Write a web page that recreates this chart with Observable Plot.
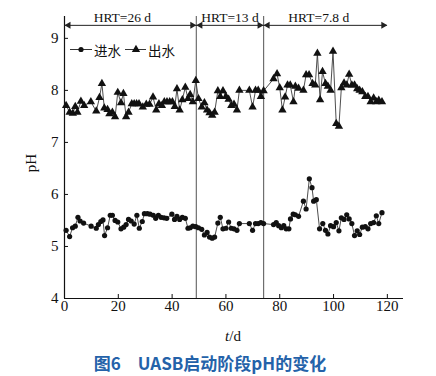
<!DOCTYPE html>
<html>
<head>
<meta charset="utf-8">
<script src="https://cdn.jsdelivr.net/npm/d3@7"></script>
<script src="https://cdn.jsdelivr.net/npm/@observablehq/plot@0.6"></script>
<style>
  html, body { margin: 0; padding: 0; background: #fff; }
  #wrap { position: relative; width: 436px; height: 376px; }
  #caption {
    position: absolute; left: 0; top: 352px; width: 420px; text-align: center;
    font-family: "Noto Sans CJK SC", "Noto Sans", sans-serif; font-weight: bold;
    font-size: 17px; line-height: 22px; color: #2462a9; white-space: pre;
  }
</style>
</head>
<body>
<div id="wrap"><div id="chart"></div><div id="caption"></div></div>
<script>
// ---- data ----
const xTicks = [0, 20, 40, 60, 80, 100, 120];
const yTicks = [4, 5, 6, 7, 8, 9];
const seriesNames = ["进水", "出水"];
const hrtBounds = [49, 74];
const hrtStart = [0, 49, 74];
const hrtEnd = [49, 74, 120];
const hrtLabels = ["HRT=26 d", "HRT=13 d", "HRT=7.8 d"];
const hrtLabelX = [21.5, 61.5, 94.5];
const hrtLevel = 9.25;

const inDays = [0.6, 1.9, 3.0, 4.0, 5.0, 5.8, 7.1, 9.9, 11.8, 12.6, 13.5, 14.3, 14.9, 16.0, 17.0, 17.8, 18.8, 19.8,
  21.0, 22.0, 22.9, 23.8, 24.8, 25.9, 26.9, 27.8, 28.9, 29.7, 30.8, 31.8, 33.0, 33.9, 34.9, 35.9, 37.0, 38.0,
  39.9, 40.9, 41.8, 42.8, 43.8, 44.9, 45.9, 46.7, 47.7, 48.8, 49.8, 51.0, 52.0, 53.0, 53.9, 54.9, 55.8, 57.0,
  57.9, 58.9, 60.0, 61.0, 62.0, 63.0, 64.1, 65.0, 68.7, 69.9, 71.0, 72.0, 73.0, 74.0, 77.7, 78.7, 79.6, 80.6,
  81.5, 82.4, 83.4, 84.0, 85.0, 85.8, 87.0, 88.8, 89.8, 91.0, 92.0, 92.6, 93.6, 94.8, 96.0, 97.0, 97.9, 98.9,
  100.0, 101.0, 102.0, 102.9, 103.9, 104.9, 105.8, 106.8, 107.8, 108.8, 109.7, 110.7, 111.8, 112.8, 113.8,
  114.9, 115.9, 116.8, 118.0];
const inPH = [5.31, 5.19, 5.36, 5.39, 5.56, 5.49, 5.45, 5.39, 5.35, 5.42, 5.48, 5.51, 5.21, 5.36, 5.60, 5.60, 5.50, 5.47,
  5.34, 5.37, 5.42, 5.52, 5.49, 5.43, 5.60, 5.35, 5.48, 5.63, 5.63, 5.62, 5.60, 5.54, 5.60, 5.56, 5.55, 5.54,
  5.62, 5.52, 5.58, 5.52, 5.56, 5.54, 5.35, 5.36, 5.39, 5.38, 5.36, 5.33, 5.22, 5.27, 5.18, 5.16, 5.18, 5.45,
  5.56, 5.34, 5.35, 5.47, 5.35, 5.34, 5.31, 5.44, 5.44, 5.31, 5.44, 5.44, 5.46, 5.44, 5.42, 5.46, 5.40, 5.36,
  5.40, 5.34, 5.34, 5.53, 5.62, 5.61, 5.58, 5.87, 5.72, 6.30, 6.13, 5.87, 5.90, 5.34, 5.44, 5.31, 5.24, 5.40,
  5.38, 5.46, 5.30, 5.55, 5.52, 5.61, 5.53, 5.44, 5.21, 5.30, 5.23, 5.37, 5.38, 5.34, 5.44,
  5.46, 5.59, 5.44, 5.65];

const outDays = [0.6, 1.9, 3.1, 4.0, 4.8, 6.1, 7.3, 9.8, 11.8, 13.0, 13.9, 14.8, 16.0, 16.7, 17.8, 18.8, 19.8, 21.0,
  21.9, 22.9, 23.8, 25.0, 25.9, 26.8, 27.7, 29.1, 30.4, 31.6, 32.9, 34.1, 35.1, 36.2, 37.1, 38.1, 39.1, 40.1,
  41.0, 41.8, 42.8, 43.8, 44.9, 45.9, 46.7, 47.7, 48.8, 49.8, 51.0, 52.0, 53.0, 53.9, 54.9, 55.8, 57.0, 57.9,
  58.9, 60.0, 61.0, 62.0, 63.0, 64.1, 65.0, 68.7, 69.9, 71.0, 72.0, 73.0, 74.0, 77.7, 79.0, 80.0, 81.0, 82.0,
  82.9, 83.9, 85.1, 85.8, 87.0, 88.8, 89.8, 90.9, 92.2, 93.2, 94.0, 95.0, 95.9, 97.0, 97.9, 98.9, 99.8, 101.0,
  102.0, 102.9, 103.9, 104.9, 105.8, 106.8, 107.8, 108.8, 109.7, 110.7, 111.8, 112.8, 113.8, 114.9, 115.9,
  116.8, 118.0];
const outPH = [7.71, 7.58, 7.56, 7.69, 7.58, 7.79, 7.71, 7.78, 7.60, 7.86, 8.13, 7.66, 7.63, 7.55, 7.58, 7.49, 7.96, 7.76,
  7.94, 7.49, 7.58, 7.74, 7.74, 7.74, 7.74, 7.68, 7.73, 7.73, 7.87, 7.62, 7.74, 7.71, 7.78, 7.78, 7.78, 7.78,
  7.69, 8.03, 7.62, 7.82, 8.06, 7.84, 7.92, 7.78, 8.19, 7.84, 7.68, 7.76, 7.62, 7.57, 7.52, 7.58, 7.99, 7.88,
  7.99, 7.88, 7.83, 7.71, 7.73, 7.62, 8.00, 8.00, 7.68, 8.00, 8.00, 7.88, 7.99, 8.22, 8.32, 8.05, 7.62, 7.87,
  8.10, 8.10, 7.78, 8.08, 8.04, 8.00, 8.30, 8.30, 8.13, 8.10, 8.71, 7.82, 8.36, 8.13, 8.08, 8.00, 8.75, 7.36,
  7.31, 8.05, 8.14, 8.10, 8.31, 8.10, 8.10, 8.03, 8.00, 7.97, 7.88, 7.88, 7.78, 7.85, 7.78,
  7.81, 7.78];

const inflow = inDays.map((d, i) => ({t: d, pH: inPH[i]}));
const outflow = outDays.map((d, i) => ({t: d, pH: outPH[i]}));
const segments = hrtStart.map((s, i) => ({s, e: hrtEnd[i], label: hrtLabels[i], lx: hrtLabelX[i]}));

const serif = "'Liberation Serif', 'Times New Roman', serif";
const cjk = "'Noto Sans CJK SC', sans-serif";

const chart = Plot.plot({
  width: 436,
  height: 352,
  marginLeft: 64,
  marginRight: 33,
  marginTop: 16,
  marginBottom: 54,
  x: {domain: [0, 126]},
  y: {domain: [4, 9.42]},
  style: {fontFamily: serif, fontSize: "15px", background: "white", color: "#111", overflow: "visible"},
  marks: [
    Plot.ruleX(hrtBounds, {stroke: "#6e6e6e", strokeWidth: 1.2}),
    Plot.ruleX([0], {stroke: "#111", strokeWidth: 1.2}),
    Plot.ruleY([4], {stroke: "#111", strokeWidth: 1.2}),
    Plot.axisX({ticks: xTicks, tickFormat: d3.format("d"), tickSize: -4, tickPadding: 6, label: null, fontSize: 15, stroke: "#111"}),
    Plot.axisY({ticks: yTicks, tickFormat: d3.format("d"), tickSize: -4, tickPadding: 10, label: null, fontSize: 15, stroke: "#111"}),
    // HRT annotations
    Plot.ruleY(segments, {x1: "s", x2: "e", y: () => hrtLevel, stroke: "#222", strokeWidth: 1}),
    Plot.dot(segments, {x: "s", y: () => hrtLevel, symbol: "triangle", rotate: -90, r: 2.6, fill: "#222", dx: 4}),
    Plot.dot(segments, {x: "e", y: () => hrtLevel, symbol: "triangle", rotate: 90, r: 2.6, fill: "#222", dx: -4}),
    Plot.text(segments, {x: "lx", y: () => hrtLevel, text: "label", dy: -8, fontSize: 13.5, fill: "#111"}),
    // series
    Plot.line(inflow, {x: "t", y: "pH", stroke: "#3a3a3a", strokeWidth: 0.9}),
    Plot.line(outflow, {x: "t", y: "pH", stroke: "#3a3a3a", strokeWidth: 0.9}),
    Plot.dot(inflow, {x: "t", y: "pH", symbol: "circle", r: 2.6, fill: "#111"}),
    Plot.dot(outflow, {x: "t", y: "pH", symbol: "triangle", r: 3.1, fill: "#111"})
  ]
});

document.getElementById("chart").appendChild(chart);
const svg = d3.select(chart);

// axis titles
svg.append("text")
  .attr("transform", "translate(31,163) rotate(-90)")
  .attr("text-anchor", "middle").attr("dominant-baseline", "central")
  .style("font-family", serif).style("font-size", "15px").attr("fill", "#111")
  .text("pH");
const tl = svg.append("text")
  .attr("x", 233).attr("y", 341).attr("text-anchor", "middle")
  .style("font-family", serif).style("font-size", "15px").attr("fill", "#111");
tl.append("tspan").style("font-style", "italic").text("t");
tl.append("tspan").text("/d");

// legend
const lg = svg.append("g").attr("fill", "#111").attr("stroke", "#333");
lg.append("line").attr("x1", 70).attr("x2", 92).attr("y1", 49.5).attr("y2", 49.5).attr("stroke-width", 1);
lg.append("circle").attr("cx", 81).attr("cy", 49.5).attr("r", 2.6).attr("stroke", "none");
lg.append("text").attr("x", 94).attr("y", 50).attr("text-anchor", "start").attr("dominant-baseline", "central").attr("stroke", "none")
  .style("font-family", cjk).style("font-size", "13.5px").text(seriesNames[0]);
lg.append("line").attr("x1", 125).attr("x2", 146).attr("y1", 49.5).attr("y2", 49.5).attr("stroke-width", 1);
lg.append("path").attr("d", d3.symbol(d3.symbolTriangle, 30)()).attr("transform", "translate(136,49.5)").attr("stroke", "none");
lg.append("text").attr("x", 148).attr("y", 50).attr("text-anchor", "start").attr("dominant-baseline", "central").attr("stroke", "none")
  .style("font-family", cjk).style("font-size", "13.5px").text(seriesNames[1]);

document.getElementById("caption").textContent = "图6\u2003UASB启动阶段pH的变化";
</script>
</body>
</html>
